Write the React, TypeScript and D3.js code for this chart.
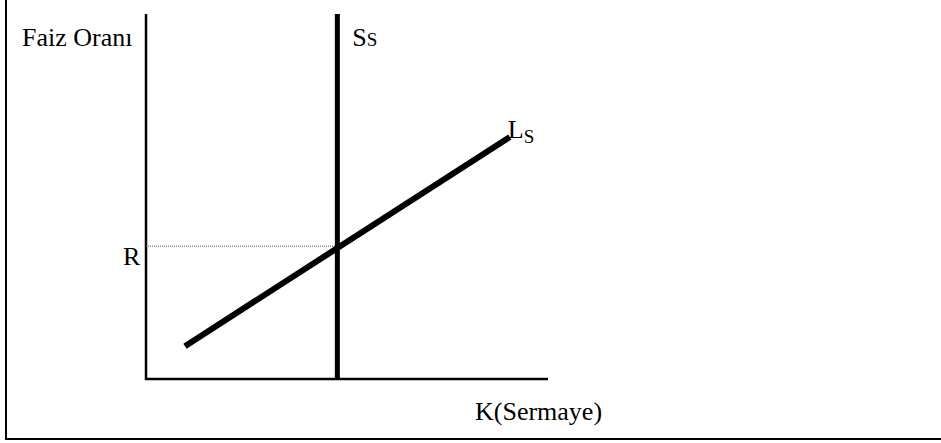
import React from 'react';
import * as d3 from 'd3';

// capital market: fixed short-run supply S_S and upward sloping L_S
const supplyK = [4.76];
const demandK = [0.97, 9.05];
const demandR = [0.9, 6.63];
const equilibriumR = [3.64];
const axisLabels = ['Faiz Oranı', 'K(Sermaye)', 'R'];
const curveLabels = ['S', 'L'];
const subLabel = 'S';

const W = 941;
const H = 443;
const font = '"Liberation Serif", "Times New Roman", serif';

const App = () => {
    const x = d3.scaleLinear().domain([0, 10]).range([146, 548]);
    const y = d3.scaleLinear().domain([0, 10]).range([379, 14]);

    const line = d3.line<[number, number]>()
        .x(d => x(d[0]))
        .y(d => y(d[1]));
    const demandPts: [number, number][] = demandK.map((k, i) => [k, demandR[i]]);

    return (
        <svg width={W} height={H} style={{ position: 'absolute', left: 0, top: 0, background: '#fff' }}>
            {/* frame */}
            <line x1={6} x2={6} y1={0} y2={440} stroke="#000" strokeWidth={2} />
            <line x1={5} x2={W} y1={439} y2={439} stroke="#000" strokeWidth={2} />

            {/* axes */}
            <line x1={x(0)} x2={x(0)} y1={y(10)} y2={y(0) + 1} stroke="#000" strokeWidth={2.5} />
            <line x1={x(0) - 1} x2={x(10)} y1={y(0)} y2={y(0)} stroke="#000" strokeWidth={2.5} />

            {/* R guide */}
            <line x1={x(0)} x2={x(supplyK[0])} y1={y(equilibriumR[0])} y2={y(equilibriumR[0])}
                stroke="#555" strokeWidth={1} strokeDasharray="1,1" />

            {/* supply */}
            <line x1={x(supplyK[0])} x2={x(supplyK[0])} y1={y(10)} y2={y(0)} stroke="#000" strokeWidth={5} />

            {/* L_S */}
            <path d={line(demandPts) || ''} fill="none" stroke="#000" strokeWidth={6} />

            <g fontFamily={font} fill="#000">
                <text x={22} y={46} fontSize={26}>{axisLabels[0]}</text>
                <text x={475} y={420} fontSize={26}>{axisLabels[1]}</text>
                <text x={123} y={265} fontSize={26}>{axisLabels[2]}</text>
                <text x={x(supplyK[0]) + 15} y={46} fontSize={26}>
                    {curveLabels[0]}<tspan fontSize={19}>{subLabel}</tspan>
                </text>
                <text x={x(demandK[1]) - 2} y={138} fontSize={26}>
                    {curveLabels[1]}<tspan fontSize={19} dy={5}>{subLabel}</tspan>
                </text>
            </g>
        </svg>
    );
};

export default App;
